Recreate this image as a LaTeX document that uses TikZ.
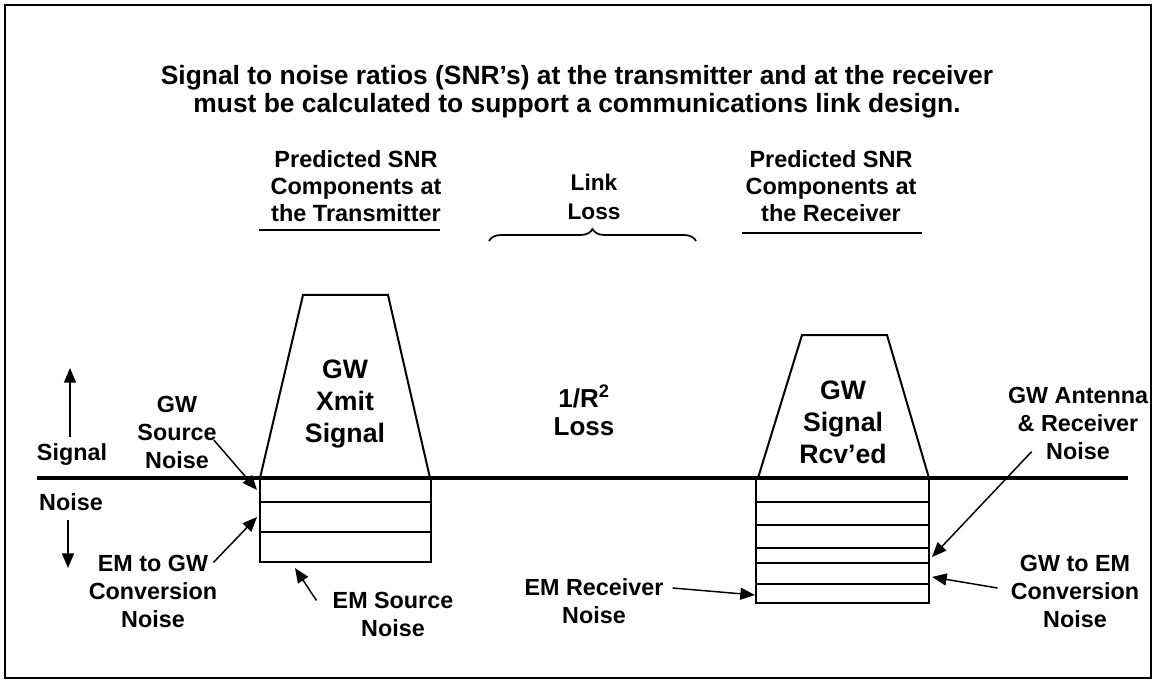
\documentclass[tikz,border=0pt]{standalone}
\usepackage{fontspec}
\setmainfont{Liberation Sans}
\usetikzlibrary{arrows.meta,decorations.pathreplacing}

\tikzset{
  titletext/.style={font=\bfseries\fontsize{19.8}{21}\selectfont, align=center, inner sep=0pt},
  headtext/.style={font=\bfseries\fontsize{17.6}{20}\selectfont, align=center, inner sep=0pt},
  lbl/.style={font=\bfseries\fontsize{17.5}{21}\selectfont, align=center, inner sep=0pt},
  bigtext/.style={font=\bfseries\fontsize{20}{24}\selectfont, align=center, inner sep=0pt},
  ptr/.style={line width=1.1pt, -{Triangle[length=11pt, width=9pt]}},
  thin/.style={line width=1pt},
}

\begin{document}
\begin{tikzpicture}[x=0.75pt, y=-0.75pt]
		%%%%% START %%%%%
		\useasboundingbox (0,0) rectangle (1154,681);
		\draw[line width=1.5pt] (5,5) rectangle (1151,678);
		
		\node[titletext] (title) at (577,92) {Signal to noise ratios (SNR’s) at the transmitter and at the receiver\\must be calculated to support a communications link design.};
		
		% headings
		\node[headtext] (xhead) at (356,186) {Predicted SNR\\Components at\\the Transmitter};
		\draw[thin] (259,230) -- (440,230);
		\node[headtext] (rhead) at (831,186) {Predicted SNR\\Components at\\the Receiver};
		\draw[thin] (742,233) -- (922,233);
		
		\node[lbl, font=\bfseries\fontsize{17}{22}\selectfont] (link) at (594,197) {Link\\Loss};
		\draw[line width=1.3pt, decorate, decoration={brace, amplitude=9pt}] (489,241) -- (696,241);
		
		% signal / noise divide
		\draw[line width=3pt] (37,478) -- (1128,478);
		
		\node[lbl] (sig) at (72,455) {Signal};
		\node[lbl] (noi) at (71,502) {Noise};
		\coordinate (uplow) at (70,437);
		\coordinate (uptip) at (70,368);
		\draw[ptr] (uplow) -- (uptip);
		\coordinate (dnhigh) at (68,520);
		\coordinate (dntip) at (68,568);
		\draw[ptr] (dnhigh) -- (dntip);
		
		% transmitter
		\draw[line width=1.5pt] (260,478) -- (303,295) -- (388,295) -- (430,478);
		\node[bigtext] (xmit) at (345,404) {GW\\Xmit\\Signal};
		\draw[thin] (260,478) rectangle (431,562);
		\draw[line width=2pt] (260,502) -- (431,502);
		\draw[thin] (260,532) -- (431,532);
		
		\node[lbl] (gwsrc) at (177,432) {GW\\Source\\Noise};
		\coordinate (gwsrctip) at (257,490);
		\draw[ptr] ([shift={(-3,8)}]gwsrc.east) -- (gwsrctip);
		
		\node[lbl] (emgw) at (153,591) {EM to GW\\Conversion\\Noise};
		\coordinate (emgwtip) at (257,517);
		\draw[ptr] ([shift={(-4,8)}]emgw.north east) -- (emgwtip);
		
		\node[lbl] (emsrc) at (393,614) {EM Source\\Noise};
		\coordinate (emsrctip) at (295,568);
		\draw[ptr] ([shift={(-16,9)}]emsrc.north west) -- (emsrctip);
		
		% link
		\node[bigtext, font=\bfseries\fontsize{19.5}{21}\selectfont] (rloss) at (584,410) {1/R\textsuperscript{2}\\Loss};
		
		% receiver
		\draw[line width=1.5pt] (758,478) -- (802,335) -- (887,335) -- (929,478);
		\node[bigtext] (rcvd) at (843,422) {GW\\Signal\\Rcv’ed};
		\draw[thin] (756,478) rectangle (929,603);
		\foreach \y in {502,525,548,563,584}
			\draw[thin] (756,\y) -- (929,\y);
		
		\node[lbl] (gwant) at (1078,423) {GW Antenna\\\& Receiver\\Noise};
		\coordinate (gwanttip) at (932,557);
		\draw[ptr] ([shift={(24,-8)}]gwant.south west) -- (gwanttip);
		
		\node[lbl] (gwem) at (1075,591) {GW to EM\\Conversion\\Noise};
		\coordinate (gwemtip) at (932,577);
		\draw[ptr] ([shift={(-13,-3)}]gwem.west) -- (gwemtip);
		
		\node[lbl] (emrcv) at (594,601) {EM Receiver\\Noise};
		\coordinate (emrcvtip) at (755,595);
		\draw[ptr] ([shift={(9,-13)}]emrcv.east) -- (emrcvtip);
		
		%%%%% END %%%%%
\end{tikzpicture}
\end{document}
